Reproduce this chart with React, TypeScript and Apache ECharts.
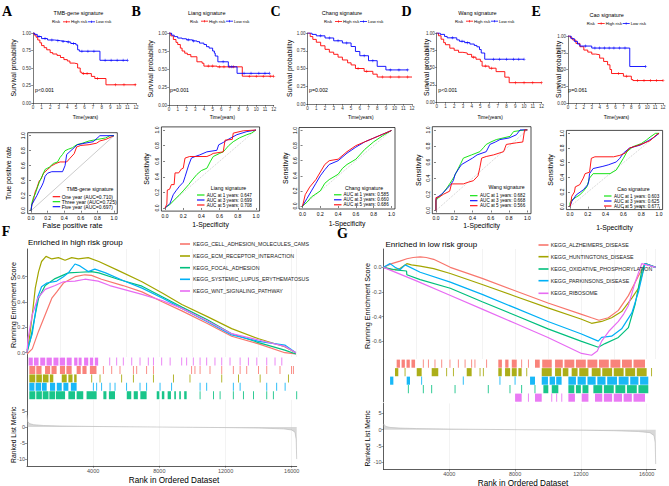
import React, { useEffect, useRef } from "react";
import * as echarts from "echarts";

// ================= DATA =================
// --- Kaplan-Meier (top row) ---
const kmTitles = ["TMB-gene signature", "Liang signature", "Chang signature", "Wang signature", "Cao signature"];
const kmPValues = ["p<0.001", "p=0.001", "p=0.002", "p<0.001", "p=0.061"];
const kmTimeTicksMax = 12;

const kmHighA = [[0,1],[0.15,0.97],[0.35,0.94],[0.55,0.9],[0.8,0.86],[1.0,0.82],[1.3,0.79],[1.6,0.76],[2.0,0.72],[2.3,0.7],[2.8,0.68],[3.2,0.65],[3.6,0.62],[4.0,0.6],[4.3,0.57],[4.8,0.56],[5.2,0.5],[5.5,0.44],[5.7,0.42],[6.8,0.38],[7.2,0.35],[8.5,0.26],[12,0.26]];
const kmLowA = [[0,1],[0.2,0.98],[0.5,0.95],[1,0.92],[1.7,0.9],[2.5,0.89],[3.2,0.88],[3.8,0.87],[4.4,0.85],[5.0,0.83],[5.2,0.76],[5.4,0.74],[7.8,0.61],[11,0.61]];
const kmHighB = [[0,1],[0.2,0.96],[0.5,0.91],[0.8,0.87],[1,0.84],[1.3,0.79],[1.5,0.75],[1.8,0.72],[2.1,0.7],[2.5,0.67],[3.2,0.6],[3.8,0.58],[4.0,0.54],[5.5,0.53],[8.4,0.4],[12,0.4]];
const kmLowB = [[0,1],[0.3,0.97],[0.6,0.95],[1,0.93],[1.5,0.92],[2,0.905],[2.7,0.89],[3.2,0.88],[3.5,0.86],[4,0.84],[4.3,0.81],[4.6,0.79],[5,0.75],[5.2,0.72],[5.3,0.68],[5.6,0.6],[6.8,0.53],[7.8,0.44],[11.5,0.44]];
const kmHighC = [[0,1],[0.3,0.95],[0.6,0.91],[1,0.87],[1.5,0.82],[2,0.77],[2.5,0.73],[3,0.7],[3.5,0.66],[4,0.62],[4.6,0.58],[5,0.55],[5.5,0.5],[6.5,0.46],[7.5,0.42],[8,0.38],[12,0.38]];
const kmLowC = [[0,1],[0.5,0.98],[1,0.96],[2,0.93],[3,0.89],[4,0.86],[5,0.81],[5.5,0.74],[6,0.68],[7,0.61],[8,0.53],[9,0.48],[11.5,0.48]];
const kmHighD = [[0,1],[0.2,0.96],[0.5,0.91],[0.8,0.86],[1,0.83],[1.5,0.78],[2,0.75],[2.5,0.72],[3,0.71],[3.5,0.69],[4,0.65],[4.5,0.62],[5.0,0.59],[5.2,0.52],[6.0,0.49],[6.8,0.44],[7.8,0.36],[8.3,0.28],[12,0.28]];
const kmLowD = [[0,1],[0.4,0.98],[0.9,0.95],[1.2,0.93],[2.3,0.9],[2.6,0.88],[3.2,0.86],[3.8,0.84],[4.3,0.82],[4.6,0.8],[4.9,0.76],[5.1,0.71],[5.5,0.62],[10,0.62]];
const kmHighE = [[0,1],[0.3,0.97],[0.6,0.94],[1,0.89],[1.5,0.84],[2,0.79],[2.5,0.76],[3,0.73],[3.5,0.72],[4,0.67],[4.5,0.62],[5,0.57],[5.3,0.5],[5.5,0.44],[7,0.4],[8,0.35],[8.2,0.335],[12,0.335]];
const kmLowE = [[0,1],[0.4,0.96],[0.8,0.92],[1.2,0.88],[1.5,0.85],[3,0.82],[7.8,0.545],[9.8,0.545]];

const censHighA = [5.9, 6.3, 7.5, 9.6, 10.6, 11.9];
const censLowA = [0.7, 1.4, 2.2, 2.9, 3.5, 4.1, 4.7, 5.7, 6.4, 7.1, 8.4, 9.1, 9.8, 10.5, 11];
const censHighB = [4.5, 5, 5.8, 6.3, 6.9, 7.4, 9.2, 10, 10.8, 11.6, 12];
const censLowB = [2.2, 2.8, 6.2, 7.2, 8.6, 9.4, 10.3, 11, 11.5];
const censHighC = [5.8, 6.8, 8.6, 9.5, 10.5, 11.5];
const censLowC = [1.5, 2.5, 3.5, 4.5, 6.5, 7.5, 9.5, 10.5, 11.5];
const censHighD = [4.2, 5.6, 6.3, 9, 10, 11, 12];
const censLowD = [1.8, 2.9, 3.5, 6.5, 7.2, 8, 8.8, 9.4, 10];
const censHighE = [6.4, 7.4, 8.8, 9.6, 10.4, 11.2, 12];
const censLowE = [2.2, 3.4, 4, 4.6, 5.2, 5.8, 6.5, 7.2, 9.8];

// --- time-dependent ROC (second row) ---
const rocTicks = [0, 0.2, 0.4, 0.6, 0.8, 1];
const rocA1 = [[0,0],[0.01,0.08],[0.03,0.15],[0.05,0.25],[0.07,0.3],[0.1,0.4],[0.12,0.42],[0.15,0.5],[0.2,0.55],[0.25,0.6],[0.3,0.63],[0.35,0.65],[0.43,0.65],[0.47,0.7],[0.52,0.76],[0.55,0.85],[0.6,0.87],[0.7,0.88],[0.79,0.9],[0.83,0.93],[0.9,0.95],[1,1]];
const rocA3 = [[0,0],[0.01,0.1],[0.03,0.18],[0.05,0.22],[0.08,0.32],[0.1,0.38],[0.13,0.45],[0.17,0.55],[0.22,0.58],[0.27,0.63],[0.32,0.65],[0.35,0.71],[0.38,0.75],[0.41,0.8],[0.45,0.82],[0.5,0.84],[0.55,0.88],[0.62,0.9],[0.7,0.93],[0.8,0.95],[0.9,0.97],[0.95,1],[1,1]];
const rocA5 = [[0,0],[0.01,0.08],[0.04,0.14],[0.07,0.2],[0.1,0.27],[0.13,0.33],[0.15,0.38],[0.17,0.46],[0.2,0.5],[0.25,0.52],[0.38,0.52],[0.41,0.6],[0.43,0.75],[0.47,0.79],[0.52,0.84],[0.56,0.88],[0.65,0.9],[0.75,0.92],[0.83,1],[1,1]];
const rocB1 = [[0,0],[0.02,0.02],[0.05,0.04],[0.1,0.1],[0.16,0.17],[0.2,0.22],[0.26,0.3],[0.3,0.36],[0.35,0.43],[0.4,0.48],[0.46,0.51],[0.5,0.6],[0.53,0.66],[0.6,0.7],[0.64,0.72],[0.7,0.8],[0.75,0.85],[0.82,0.9],[0.9,0.94],[0.95,0.96],[1,1]];
const rocB3 = [[0,0],[0.03,0.03],[0.055,0.06],[0.09,0.17],[0.12,0.22],[0.16,0.28],[0.2,0.33],[0.22,0.4],[0.26,0.55],[0.29,0.64],[0.33,0.66],[0.38,0.68],[0.46,0.72],[0.57,0.74],[0.59,0.81],[0.64,0.84],[0.68,0.87],[0.79,0.94],[0.9,0.98],[1,1]];
const rocB5 = [[0,0],[0.02,0.05],[0.025,0.23],[0.05,0.24],[0.07,0.3],[0.1,0.3],[0.11,0.45],[0.15,0.45],[0.18,0.5],[0.2,0.51],[0.22,0.64],[0.27,0.66],[0.46,0.66],[0.5,0.68],[0.53,0.7],[0.64,0.72],[0.66,0.87],[0.74,0.88],[0.75,0.96],[0.86,0.99],[1,1]];
const rocC1 = [[0,0],[0.05,0.05],[0.1,0.12],[0.2,0.2],[0.25,0.3],[0.3,0.35],[0.4,0.42],[0.45,0.5],[0.5,0.55],[0.6,0.62],[0.7,0.75],[0.8,0.85],[0.9,0.93],[1,1]];
const rocC3 = [[0,0],[0.05,0.1],[0.1,0.2],[0.15,0.3],[0.2,0.4],[0.25,0.48],[0.3,0.55],[0.4,0.6],[0.5,0.7],[0.6,0.78],[0.7,0.85],[0.8,0.9],[0.9,0.95],[1,1]];
const rocC5 = [[0,0],[0.03,0.15],[0.08,0.25],[0.15,0.35],[0.2,0.45],[0.25,0.55],[0.3,0.6],[0.4,0.62],[0.5,0.72],[0.6,0.8],[0.7,0.85],[0.8,0.9],[0.9,0.95],[1,1]];
const rocD1 = [[0,0],[0,0.12],[0.01,0.14],[0.05,0.18],[0.08,0.22],[0.12,0.28],[0.15,0.33],[0.2,0.42],[0.23,0.49],[0.27,0.58],[0.3,0.65],[0.39,0.69],[0.48,0.73],[0.52,0.78],[0.55,0.82],[0.6,0.85],[0.66,0.88],[0.81,0.92],[0.85,0.98],[0.97,1],[1,1]];
const rocD3 = [[0,0],[0,0.14],[0.01,0.16],[0.06,0.2],[0.12,0.27],[0.16,0.32],[0.19,0.37],[0.21,0.45],[0.25,0.52],[0.28,0.57],[0.34,0.61],[0.4,0.65],[0.45,0.69],[0.55,0.73],[0.59,0.82],[0.65,0.85],[0.7,0.88],[0.8,0.9],[0.88,0.94],[0.92,1],[1,1]];
const rocD5 = [[0,0],[0,0.16],[0.04,0.17],[0.08,0.2],[0.15,0.24],[0.17,0.33],[0.3,0.33],[0.35,0.35],[0.41,0.37],[0.46,0.43],[0.48,0.53],[0.5,0.65],[0.55,0.67],[0.63,0.69],[0.74,0.73],[0.77,0.82],[0.88,0.84],[0.95,0.85],[0.97,1],[1,1]];
const rocE1 = [[0,0],[0,0.05],[0.02,0.09],[0.07,0.13],[0.11,0.16],[0.15,0.21],[0.19,0.27],[0.22,0.39],[0.26,0.45],[0.45,0.45],[0.52,0.5],[0.56,0.58],[0.6,0.66],[0.64,0.75],[0.71,0.82],[0.8,0.86],[0.86,0.91],[0.9,0.95],[0.96,1],[1,1]];
const rocE3 = [[0,0],[0.02,0.07],[0.07,0.16],[0.15,0.23],[0.2,0.3],[0.21,0.34],[0.22,0.45],[0.26,0.52],[0.37,0.55],[0.43,0.57],[0.52,0.61],[0.56,0.66],[0.6,0.73],[0.67,0.8],[0.79,0.84],[0.88,0.9],[0.95,0.95],[1,1]];
const rocE5 = [[0,0],[0.01,0.05],[0.02,0.14],[0.05,0.2],[0.06,0.27],[0.11,0.3],[0.15,0.39],[0.17,0.45],[0.22,0.47],[0.24,0.66],[0.28,0.68],[0.49,0.68],[0.56,0.7],[0.62,0.73],[0.67,0.8],[0.75,0.83],[0.82,0.86],[0.9,0.9],[0.97,0.98],[1,1]];

const rocLegendA = ["One year (AUC=0.710)", "Three year (AUC=0.725)", "Five year (AUC=0.697)"];
const rocLegendB = ["AUC at 1 years: 0.647", "AUC at 3 years: 0.699", "AUC at 5 years: 0.708"];
const rocLegendC = ["AUC at 1 years: 0.585", "AUC at 3 years: 0.660", "AUC at 5 years: 0.686"];
const rocLegendD = ["AUC at 1 years: 0.682", "AUC at 3 years: 0.668", "AUC at 5 years: 0.566"];
const rocLegendE = ["AUC at 1 years: 0.603", "AUC at 3 years: 0.625", "AUC at 5 years: 0.677"];

// --- GSEA (bottom) ---
const gseaHighNames = ["KEGG_CELL_ADHESION_MOLECULES_CAMS", "KEGG_ECM_RECEPTOR_INTERACTION", "KEGG_FOCAL_ADHESION", "KEGG_SYSTEMIC_LUPUS_ERYTHEMATOSUS", "KEGG_WNT_SIGNALING_PATHWAY"];
const gseaLowNames = ["KEGG_ALZHEIMERS_DISEASE", "KEGG_HUNTINGTONS_DISEASE", "KEGG_OXIDATIVE_PHOSPHORYLATION", "KEGG_PARKINSONS_DISEASE", "KEGG_RIBOSOME"];
const rankTicks = [4000, 8000, 12000, 16000];
const esTicksHigh = [0, 0.2, 0.4, 0.6];
const esTicksLow = [-0.6, -0.4, -0.2, 0];
const metricTicks = [-10, -5, 0, 5];

const esCams = [[0,-0.01],[320,0.03],[700,0.17],[1100,0.3],[1500,0.43],[1800,0.48],[2200,0.55],[2900,0.6],[3500,0.615],[3900,0.61],[4500,0.58],[5800,0.53],[6950,0.48],[8200,0.4],[9360,0.33],[10900,0.23],[12370,0.13],[14000,0.07],[15580,0.0],[16250,-0.01]];
const esEcm = [[0,0],[150,0.12],[320,0.3],[500,0.51],[700,0.64],[880,0.72],[1150,0.76],[1500,0.74],[1900,0.75],[2300,0.73],[2700,0.75],[3100,0.74],[3700,0.75],[4340,0.72],[5500,0.65],[6950,0.56],[8200,0.47],[9360,0.38],[10900,0.285],[12370,0.19],[14000,0.11],[15580,0.047],[16250,0.0]];
const esFocal = [[0,0],[200,0.1],[500,0.3],[700,0.43],[1100,0.53],[1700,0.585],[2500,0.63],[3200,0.635],[3900,0.64],[4340,0.63],[5500,0.58],[6950,0.525],[8200,0.44],[9360,0.36],[10900,0.26],[12370,0.15],[14000,0.08],[15580,0.02],[16250,-0.01]];
const esSle = [[0,0.02],[320,0.15],[650,0.44],[880,0.52],[1200,0.55],[1800,0.565],[2200,0.6],[2500,0.63],[2900,0.7],[3200,0.685],[3700,0.64],[4100,0.66],[4750,0.63],[5800,0.57],[6950,0.51],[8200,0.43],[9360,0.35],[10900,0.245],[12370,0.14],[14000,0.09],[15580,0.06],[16250,0.0]];
const esWnt = [[0,0],[60,0.11],[320,0.3],[650,0.43],[1100,0.5],[1700,0.53],[2200,0.56],[2900,0.565],[3500,0.58],[4300,0.565],[5000,0.53],[6950,0.46],[8200,0.41],[9360,0.35],[10900,0.25],[12370,0.15],[14000,0.1],[15580,0.05],[16250,0.0]];

const esAlz = [[0,0],[500,0.03],[1000,0.05],[1420,0.07],[1800,0.08],[2230,0.085],[2600,0.08],[3050,0.065],[4060,0.0],[6000,-0.09],[8000,-0.19],[10000,-0.29],[12000,-0.38],[12650,-0.41],[13100,-0.43],[13670,-0.41],[14280,-0.35],[14890,-0.23],[15500,-0.07],[15900,0.03],[16550,0]];
const esHunt = [[0,0],[500,-0.02],[1000,-0.01],[1420,0.03],[1700,0.02],[2230,0.01],[3050,-0.01],[4060,-0.05],[6000,-0.14],[8000,-0.235],[10000,-0.33],[12000,-0.42],[12650,-0.455],[13265,-0.44],[13870,-0.41],[14480,-0.36],[15100,-0.25],[15500,-0.17],[15900,0.03],[16550,0]];
const esOx = [[0,0],[700,-0.02],[1400,-0.03],[1420,-0.06],[2230,-0.1],[4060,-0.17],[6000,-0.28],[8000,-0.39],[10000,-0.5],[12000,-0.6],[13060,-0.65],[13470,-0.62],[14280,-0.57],[14890,-0.49],[15300,-0.3],[15700,-0.03],[15900,0.03],[16550,0]];
const esPark = [[0,0],[400,0.03],[700,0.0],[1000,-0.02],[1320,0.02],[2230,-0.04],[4060,-0.12],[6000,-0.22],[8000,-0.33],[10000,-0.44],[12000,-0.54],[13060,-0.6],[13265,-0.57],[13870,-0.56],[14480,-0.5],[15100,-0.37],[15500,-0.2],[15900,0.03],[16550,0]];
const esRibo = [[0,0],[2000,-0.11],[4000,-0.225],[6000,-0.34],[8000,-0.455],[10000,-0.57],[12040,-0.7],[12650,-0.715],[13000,-0.68],[13265,-0.6],[13700,-0.52],[14280,-0.44],[14600,-0.38],[14890,-0.31],[15300,-0.12],[15700,0.03],[16550,0]];

// hit positions as [start rank, end rank] runs
const hitsWnt = [[100,350],[420,700],[800,1100],[1180,1500],[1600,1900],[1980,2300],[2400,2700],[2850,3050],[3120,3300],[3450,3700],[3800,4000],[4100,4300],[5000,5000],[5420,5420],[5820,5820],[6330,6330],[6830,6830],[7330,7330],[7640,7640],[8140,8140],[8650,8650],[9350,9350],[9650,9650],[10050,10050],[10460,10460],[10860,10860],[11360,11360],[11770,11770],[12270,12270],[12880,12880],[13380,13380],[13890,13890],[14490,14490],[14990,14990],[15400,15400]];
const hitsCams = [[140,500],[560,880],[1090,1400],[1480,1790],[1990,2300],[2380,2700],[3000,3250],[3350,3600],[3800,4200],[4615,4615],[5120,5120],[5620,5620],[6430,6430],[6630,6630],[7230,7230],[7640,7640],[9950,9950],[10150,10150],[10460,10460],[11060,11060],[11770,11770],[12470,12470],[12880,12880],[13280,13280],[13990,13990],[14490,14490],[15290,15290],[15990,15990],[16100,16100]];
const hitsEcm = [[140,500],[560,900],[960,1300],[1380,1590],[2100,2400],[2500,2750],[2850,3000],[3910,3910],[4413,4413],[5720,5720],[6430,6430],[7640,7640],[8850,8850],[9850,9850],[11770,11770],[12780,12780],[14090,14090],[15800,15800]];
const hitsSle = [[140,450],[520,850],[900,1190],[1390,1700],[1800,2100],[2200,2500],[2650,3000],[4010,4010],[4210,4210],[4510,4510],[5020,5020],[5320,5320],[6020,6020],[6830,6830],[7230,7230],[8040,8040],[8740,8740],[10460,10460],[10860,10860],[12470,12470],[12880,12880],[14490,14490],[15090,15090],[15600,15600]];
const hitsFocal = [[140,500],[560,900],[950,1300],[1350,1700],[1750,2300],[2500,2900],[3000,3400],[3600,4210],[4615,4800],[4950,5320],[6030,6300],[6450,6700],[6850,7230],[7840,8000],[8150,8300],[8500,8700],[8900,9000],[9200,9300],[9500,9650],[10460,10460],[11270,11270],[11670,11670],[12470,12470],[13080,13080],[13690,13690],[14490,14490],[14890,14890],[16300,16300]];

const hitsAlz = [[800,1000],[1100,1300],[1400,1600],[1700,1920],[2420,2420],[2730,2730],[3130,3130],[3540,3540],[4040,4040],[4550,4550],[4960,4960],[5360,5360],[5560,5560],[6270,6270],[6980,7200],[7400,7600],[7800,8100],[8400,8400],[8810,8810],[9210,9500],[9650,10230],[10430,10900],[11000,11600],[11700,12300],[12400,13000],[13100,13700],[13800,14400],[14500,15100],[15200,15900]];
const hitsHunt = [[700,900],[1310,1310],[2020,2320],[2930,3330],[3840,3840],[4250,4250],[5060,5360],[5870,5870],[6070,6070],[6980,7190],[7390,7700],[7800,8100],[8200,8400],[8710,8710],[9620,10230],[10430,10800],[10900,11240],[11440,11800],[11900,12460],[12660,13200],[13300,13900],[14000,14600],[14700,15300],[15400,16000],[16300,16300]];
const hitsPark = [[400,600],[1410,1610],[2320,2320],[4850,4850],[7080,7080],[8000,8000],[8910,9210],[9620,10000],[10100,10430],[10500,10830],[11240,11700],[11800,12300],[12400,12900],[13000,13500],[13600,14200],[14300,14900],[15000,15500],[15600,16100]];
const hitsOx = [[1510,1510],[2420,2420],[2930,2930],[4350,4350],[6370,6370],[7690,7690],[8400,8400],[9210,9210],[9720,10020],[10230,10630],[11240,11600],[11700,12000],[12100,12460],[12760,13300],[13400,14000],[14100,14700],[14800,15400],[15500,16100]];
const hitsRibo = [[8000,8400],[8810,8810],[9210,9620],[10230,10230],[10530,10530],[10840,10840],[11240,11640],[12050,12460],[12860,13300],[13400,13900],[14000,14500],[14600,15100],[15200,15900]];

const rankedHigh = [[0,3.8],[40,1.8],[150,1.1],[400,0.75],[1000,0.5],[2000,0.35],[4000,0.2],[6000,0.1],[8000,0.02],[10000,-0.06],[12000,-0.15],[14000,-0.3],[15500,-0.55],[16000,-0.9],[16200,-1.6],[16270,-4],[16300,-10]];
const rankedLow = [[0,1.8],[40,1.5],[150,1.0],[400,0.7],[1000,0.5],[2000,0.35],[4000,0.2],[6000,0.1],[8000,0.02],[10000,-0.05],[12000,-0.15],[14000,-0.3],[15500,-0.55],[16200,-0.9],[16450,-1.8],[16520,-4],[16550,-10.5]];

// ================= STYLE / LAYOUT =================
const FONT = "Liberation Sans, Arial, sans-serif";
const SERIF = "Liberation Serif, Times New Roman, serif";
const KRED = "#ff0000", KBLUE = "#0000ff", RGREEN = "#00e000";
const GG = { red: "#F8766D", olive: "#A3A500", green: "#00BF7D", blue: "#00B0F6", pink: "#E76BF3" };
const CROSS = "path://M4,0H6V4H10V6H6V10H4V6H0V4H4Z";

const kmLayout = [
  { left: 33, top: 33, width: 103, height: 70, tx: 78.5, ty: 13.3, lx: 52, px: 35, yl: 13.3 },
  { left: 169, top: 33, width: 104.7, height: 72, tx: 206.7, ty: 12.7, lx: 190, px: 170, yl: 150 },
  { left: 307.6, top: 33, width: 104.4, height: 71, tx: 342, ty: 13, lx: 324, px: 309, yl: 289 },
  { left: 436.7, top: 33, width: 104.8, height: 69, tx: 477.5, ty: 12.7, lx: 455, px: 438.3, yl: 426.7 },
  { left: 568, top: 36, width: 95, height: 67, tx: 606.7, ty: 15, lx: 586.7, px: 568.3, yl: 558 },
];
const rocLayout = [
  { left: 27.7, top: 132.7, width: 89.6, height: 81, xl: 225.5, yl: 8.3, ltx: 90, lty: 189, ly0: 196.7, lnx: 52.7, ttx: 61.7 },
  { left: 161.4, top: 126.9, width: 98.2, height: 84.2, xl: 224.5, yl: 146.7, ltx: 228.5, lty: 188, ly0: 195, lnx: 197, ttx: 206.7 },
  { left: 299, top: 127.5, width: 96, height: 81.5, xl: 223.5, yl: 285, ltx: 364, lty: 187.5, ly0: 194.8, lnx: 334, ttx: 343.5 },
  { left: 432.3, top: 126.7, width: 98.7, height: 87, xl: 225.5, yl: 418.3, ltx: 506.5, lty: 186.7, ly0: 195.7, lnx: 470, ttx: 480 },
  { left: 566.4, top: 130.4, width: 96.2, height: 79.2, xl: 227, yl: 550.7, ltx: 633.5, lty: 189, ly0: 196, lnx: 604, ttx: 614 },
];

function survAt(curve: number[][], t: number) {
  let s = curve[0][1];
  for (const p of curve) if (p[0] <= t) s = p[1];
  return s;
}
function txt(text: string, x: number, y: number, size: number, o: any = {}) {
  return {
    type: "text", x, y, rotation: o.rot || 0, silent: true, z: 10,
    style: { text, fill: o.fill || "#000", fontSize: size, fontFamily: o.family || FONT, fontWeight: o.weight || "normal", align: o.align || "left", verticalAlign: "middle" },
  };
}
function seg(x1: number, y1: number, x2: number, y2: number, stroke: string, w: number) {
  return { type: "line", silent: true, z: 10, shape: { x1, y1, x2, y2 }, style: { stroke, lineWidth: w } };
}

export default function App() {
  const ref = useRef<HTMLDivElement>(null);
  useEffect(() => {
    if (!ref.current) return;
    const chart = echarts.init(ref.current, undefined, { renderer: "svg" });
    const grid: any[] = [], xAxis: any[] = [], yAxis: any[] = [], series: any[] = [], graphic: any[] = [];
    const axisCol = "#000";

    // ---------- KM ----------
    const kmHigh = [kmHighA, kmHighB, kmHighC, kmHighD, kmHighE];
    const kmLow = [kmLowA, kmLowB, kmLowC, kmLowD, kmLowE];
    const censHigh = [censHighA, censHighB, censHighC, censHighD, censHighE];
    const censLow = [censLowA, censLowB, censLowC, censLowD, censLowE];
    kmLayout.forEach((l, i) => {
      const gi = grid.length;
      grid.push({ left: l.left, top: l.top, width: l.width, height: l.height });
      xAxis.push({ gridIndex: gi, type: "value", min: 0, max: kmTimeTicksMax, interval: 1,
        axisLine: { show: true, onZero: false, lineStyle: { color: "#222", width: 0.6 } },
        axisTick: { show: true, length: 1.8, lineStyle: { color: "#222", width: 0.5 } },
        axisLabel: { fontSize: 4.5, margin: 2, color: "#333", fontFamily: FONT }, splitLine: { show: false } });
      yAxis.push({ gridIndex: gi, type: "value", min: 0, max: 1, interval: 0.25,
        axisLine: { show: true, onZero: false, lineStyle: { color: "#222", width: 0.6 } },
        axisTick: { show: true, length: 1.8, lineStyle: { color: "#222", width: 0.5 } },
        axisLabel: { fontSize: 4.5, margin: 2, color: "#333", fontFamily: FONT, formatter: (v: number) => v.toFixed(2) }, splitLine: { show: false } });
      [[kmHigh[i], censHigh[i], KRED], [kmLow[i], censLow[i], KBLUE]].forEach(([curve, cens, col]: any) => {
        series.push({ type: "line", xAxisIndex: gi, yAxisIndex: gi, data: curve, step: "end", symbol: "none", silent: true, lineStyle: { color: col, width: 0.9 } });
        series.push({ type: "scatter", xAxisIndex: gi, yAxisIndex: gi, data: cens.map((t: number) => [t, survAt(curve, t)]), symbol: CROSS, symbolSize: 3, silent: true, itemStyle: { color: col } });
      });
      const ly = l.ty + 8.5;
      graphic.push(txt(kmTitles[i], l.tx, l.ty, 5.5, { align: "center" }));
      graphic.push(txt("Risk", l.lx, ly, 4.2));
      graphic.push(seg(l.lx + 11, ly, l.lx + 18, ly, KRED, 0.8));
      graphic.push(seg(l.lx + 14.5, ly - 1.2, l.lx + 14.5, ly + 1.2, KRED, 0.6));
      graphic.push(txt("High risk", l.lx + 19, ly, 4.2));
      graphic.push(seg(l.lx + 36, ly, l.lx + 43, ly, KBLUE, 0.8));
      graphic.push(seg(l.lx + 39.5, ly - 1.2, l.lx + 39.5, ly + 1.2, KBLUE, 0.6));
      graphic.push(txt("Low risk", l.lx + 44, ly, 4.2));
      graphic.push(txt(kmPValues[i], l.px, 89.7, 5.2));
      graphic.push(txt("Survival probability", l.yl, l.top + l.height / 2, 6.8, { align: "center", rot: Math.PI / 2 }));
      graphic.push(txt("Time(years)", l.left + l.width / 2 + 1, 117, 4.8, { align: "center" }));
    });

    // ---------- ROC ----------
    const rocCurves = [[rocA1, rocA3, rocA5], [rocB1, rocB3, rocB5], [rocC1, rocC3, rocC5], [rocD1, rocD3, rocD5], [rocE1, rocE3, rocE5]];
    const rocLegends = [rocLegendA, rocLegendB, rocLegendC, rocLegendD, rocLegendE];
    rocLayout.forEach((l, i) => {
      const gi = grid.length;
      grid.push({ left: l.left, top: l.top, width: l.width, height: l.height, show: true, borderColor: "#000", borderWidth: 0.7, backgroundColor: "transparent" });
      const ax = (rot: number) => ({ gridIndex: gi, type: "value", min: -0.04, max: 1.04,
        axisLine: { show: false },
        axisTick: { show: true, customValues: rocTicks, length: 2, lineStyle: { color: axisCol, width: 0.5 } },
        axisLabel: { customValues: rocTicks, rotate: rot, fontSize: 5, margin: 2, color: "#000", fontFamily: FONT, formatter: (v: number) => v.toFixed(1) },
        splitLine: { show: false } });
      xAxis.push(ax(0));
      yAxis.push(ax(90));
      series.push({ type: "line", xAxisIndex: gi, yAxisIndex: gi, data: [[0, 0], [1, 1]], symbol: "none", silent: true,
        lineStyle: { color: "#999", width: 0.5, type: i === 0 ? "solid" : [1, 1.2] } });
      const cols = i === 0 ? [KRED, RGREEN, KBLUE] : [RGREEN, KBLUE, KRED];
      rocCurves[i].forEach((c, k) => {
        series.push({ type: "line", xAxisIndex: gi, yAxisIndex: gi, data: c, symbol: "none", silent: true, lineStyle: { color: cols[k], width: 0.9 } });
      });
      graphic.push(txt(kmTitles[i], l.ltx, l.lty, 5.2, { align: "center" }));
      rocLegends[i].forEach((s, k) => {
        const y = l.ly0 + k * 5;
        graphic.push(seg(l.lnx, y, l.lnx + 7.5, y, cols[k], 1.1));
        graphic.push(txt(s, l.ttx, y, i === 0 ? 5 : 4.6));
      });
      graphic.push(txt(i === 0 ? "False positive rate" : "1-Specificity", l.left + l.width / 2, l.xl, i === 0 ? 7.4 : 6.8, { align: "center" }));
      graphic.push(txt(i === 0 ? "True positive rate" : "Sensitivity", l.yl, l.top + l.height / 2, 7, { align: "center", rot: Math.PI / 2 }));
    });

    // ---------- GSEA ----------
    const gsea = [
      { left: 27, width: 269.7, max: 16300, esTop: 249, esMin: -0.034, esMax: 0.8185, esPx: 126.7, esTicks: esTicksHigh,
        stH: 42, rkGap: 0.4, rkPx: 3.2, rkMin: -12.09, rkMax: 8.53,
        curves: [esCams, esEcm, esFocal, esSle, esWnt], cols: [GG.red, GG.olive, GG.green, GG.blue, GG.pink],
        hits: [hitsWnt, hitsCams, hitsEcm, hitsSle, hitsFocal], hitCols: [GG.pink, GG.red, GG.olive, GG.blue, GG.green],
        ranked: rankedHigh, names: gseaHighNames, legLine: 180, legText: 193, legY: [244, 256, 267.7, 279.3, 291],
        letter: "F", letterX: 1.7, letterY: 231.7, title: "Enriched in high risk group", titleX: 28, titleY: 242.7, yl: 13, rankLabelX: 174, rankLabelY: 480 },
      { left: 383.5, width: 272.2, max: 16550, esTop: 249, esMin: -0.7455, esMax: 0.149, esPx: 123, esTicks: esTicksLow,
        stH: 42.5, rkGap: 1.5, rkPx: 3.27, rkMin: -12.14, rkMax: 8.04,
        curves: [esAlz, esHunt, esOx, esPark, esRibo], cols: [GG.red, GG.olive, GG.green, GG.blue, GG.pink],
        hits: [hitsAlz, hitsHunt, hitsPark, hitsOx, hitsRibo], hitCols: [GG.red, GG.olive, GG.blue, GG.green, GG.pink],
        ranked: rankedLow, names: gseaLowNames, legLine: 538.5, legText: 550.7, legY: [245, 256.7, 269, 280.7, 293.3],
        letter: "G", letterX: 337, letterY: 233, title: "Enriched in low risk group", titleX: 385.5, titleY: 244, yl: 367.5, rankLabelX: 523, rankLabelY: 483 },
    ];
    const gAxisLine = () => ({ show: true, onZero: false, lineStyle: { color: "#333", width: 0.8 } });
    const gLabel = (vals: number[], fmt: (v: number) => string) => ({ fontSize: 5.5, color: "#4d4d4d", fontFamily: FONT, margin: 2, customValues: vals, formatter: fmt });
    const gTick = (vals: number[]) => ({ show: true, customValues: vals, length: 2, lineStyle: { color: "#333", width: 0.5 } });
    gsea.forEach((p) => {
      const esH = (p.esMax - p.esMin) * p.esPx;
      const stTop = p.esTop + esH + 0.4;
      const rkTop = stTop + p.stH + p.rkGap;
      const rkH = (p.rkMax - p.rkMin) * p.rkPx;
      // ES panel
      let gi = grid.length;
      grid.push({ left: p.left, width: p.width, top: p.esTop, height: esH });
      xAxis.push({ gridIndex: gi, type: "value", min: 0, max: p.max, interval: 2000, axisLine: { show: false, onZero: false }, axisTick: { show: false }, axisLabel: { show: false },
        splitLine: { show: true, lineStyle: { color: "#ebebeb", width: 0.6 } } });
      yAxis.push({ gridIndex: gi, type: "value", min: p.esMin, max: p.esMax, axisLine: gAxisLine(),
        axisTick: gTick(p.esTicks), axisLabel: gLabel(p.esTicks, (v: number) => v.toFixed(1)), splitLine: { show: false } });
      p.curves.forEach((c, k) => {
        series.push({ type: "line", xAxisIndex: gi, yAxisIndex: gi, data: c, symbol: "none", silent: true, lineStyle: { color: p.cols[k], width: 1.2 } });
      });
      // hit strips
      gi = grid.length;
      grid.push({ left: p.left, width: p.width, top: stTop, height: p.stH });
      xAxis.push({ gridIndex: gi, type: "value", min: 0, max: p.max, show: false });
      yAxis.push({ gridIndex: gi, type: "value", min: 0, max: 5, axisLine: gAxisLine(), axisTick: { show: false }, axisLabel: { show: false }, splitLine: { show: false } });
      const pxPerRank = p.width / p.max;
      const rowH = p.stH / 5;
      p.hits.forEach((h, k) => {
        series.push({ type: "scatter", xAxisIndex: gi, yAxisIndex: gi, silent: true, symbol: "rect",
          data: h.map((r) => [(r[0] + r[1]) / 2, 5 - k - 0.5, r[1] - r[0]]),
          symbolSize: (v: number[]) => [Math.max(0.9, v[2] * pxPerRank), rowH - 0.4],
          itemStyle: { color: p.hitCols[k], opacity: 0.9 } });
      });
      // ranked list metric
      gi = grid.length;
      grid.push({ left: p.left, width: p.width, top: rkTop, height: rkH });
      xAxis.push({ gridIndex: gi, type: "value", min: 0, max: p.max, interval: 2000, axisLine: gAxisLine(),
        axisTick: gTick(rankTicks), axisLabel: gLabel(rankTicks, (v: number) => String(v)),
        splitLine: { show: true, lineStyle: { color: "#ebebeb", width: 0.6 } } });
      yAxis.push({ gridIndex: gi, type: "value", min: p.rkMin, max: p.rkMax, axisLine: gAxisLine(),
        axisTick: gTick(metricTicks), axisLabel: gLabel(metricTicks, (v: number) => String(v)), splitLine: { show: false } });
      series.push({ type: "line", xAxisIndex: gi, yAxisIndex: gi, data: p.ranked, symbol: "none", silent: true,
        lineStyle: { color: "#b5b5b5", width: 0.6 }, areaStyle: { color: "#c8c8c8", origin: 0 } });

      // texts
      graphic.push(txt(p.letter, p.letterX, p.letterY, 14, { family: SERIF, weight: "bold" }));
      graphic.push(txt(p.title, p.titleX, p.titleY, 8, {}));
      p.names.forEach((n, k) => {
        graphic.push(seg(p.legLine, p.legY[k], p.legLine + 10, p.legY[k], p.cols[k], 1.6));
        graphic.push(txt(n, p.legText, p.legY[k], 5.3, { fill: "#222" }));
      });
      graphic.push(txt("Running Enrichment Score", p.yl, p.esTop + esH / 2 + 2, 7.2, { align: "center", rot: Math.PI / 2 }));
      graphic.push(txt("Ranked List Metric", p.yl, rkTop + rkH / 2 + 2, 6.8, { align: "center", rot: Math.PI / 2 }));
      graphic.push(txt("Rank in Ordered Dataset", p.rankLabelX, p.rankLabelY, 8.2, { align: "center" }));
    });

    // panel letters
    [["A", 2], ["B", 131.5], ["C", 270.5], ["D", 401.5], ["E", 531.5]].forEach(([s, x]: any) => {
      graphic.push(txt(s, x, 11, 14, { family: SERIF, weight: "bold" }));
    });

    chart.setOption({ animation: false, backgroundColor: "#fff", grid, xAxis, yAxis, series, graphic });
    return () => chart.dispose();
  }, []);
  return <div ref={ref} style={{ position: "fixed", left: 0, top: 0, width: 669, height: 486 }} />;
}
